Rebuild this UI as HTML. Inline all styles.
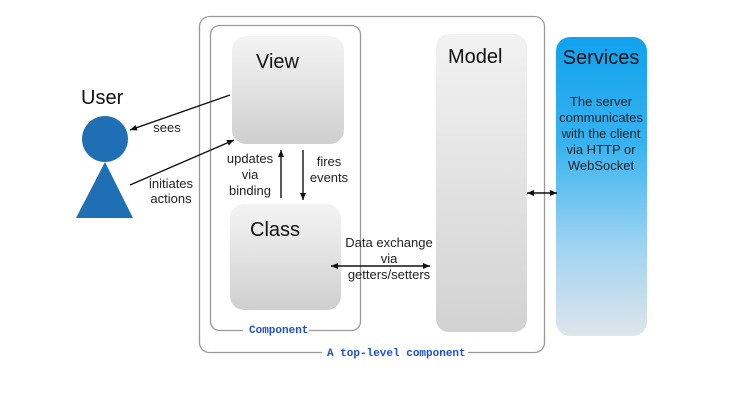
<!DOCTYPE html>
<html><head><style>
html,body{margin:0;padding:0;background:#fff;width:730px;height:420px;overflow:hidden}
text{font-family:"Liberation Sans",sans-serif}
.m{font-family:"Liberation Mono",monospace;font-weight:bold;fill:#1e4fd8;font-size:11px}
</style></head><body>
<svg width="730" height="420" viewBox="0 0 730 420" xmlns="http://www.w3.org/2000/svg">
<defs>
<linearGradient id="g" x1="0" y1="0" x2="0" y2="1">
<stop offset="0" stop-color="#f4f4f4"/><stop offset="1" stop-color="#cfcfcf"/></linearGradient>
<linearGradient id="gm" x1="0" y1="0" x2="0" y2="1">
<stop offset="0" stop-color="#f2f2f2"/><stop offset="1" stop-color="#d2d2d2"/></linearGradient>
<linearGradient id="b" x1="0" y1="0" x2="0" y2="1">
<stop offset="0" stop-color="#10a2ee"/><stop offset="0.35" stop-color="#36b2ef"/><stop offset="0.7" stop-color="#9fd3f2"/><stop offset="1" stop-color="#dfe5ea"/></linearGradient>
<marker id="a" markerWidth="8" markerHeight="8" refX="7" refY="4" orient="auto" markerUnits="userSpaceOnUse"><path d="M0,1 L7,4 L0,7z" fill="#111"/></marker>
<marker id="s" markerWidth="8" markerHeight="8" refX="0" refY="4" orient="auto" markerUnits="userSpaceOnUse"><path d="M7,1 L0,4 L7,7z" fill="#111"/></marker>
</defs>
<rect x="199.5" y="16.5" width="345" height="336" rx="10" fill="none" stroke="#999" stroke-width="1.3"/>
<rect x="210.5" y="25.5" width="150" height="305" rx="9" fill="none" stroke="#999" stroke-width="1.3"/>
<rect x="232" y="36" width="112" height="108" rx="14" fill="url(#g)"/>
<rect x="230" y="204" width="111" height="106" rx="14" fill="url(#g)"/>
<rect x="436" y="34" width="91" height="298" rx="13" fill="url(#gm)"/>
<rect x="556" y="37" width="91" height="299" rx="14" fill="url(#b)"/>
<rect x="243" y="323" width="66" height="14" fill="#fff"/>
<text x="249" y="333" class="m">Component</text>
<rect x="322" y="345" width="146" height="14" fill="#fff"/>
<text x="327" y="356" class="m">A top-level component</text>
<text x="256" y="68" font-size="20" fill="#111">View</text>
<text x="250" y="236" font-size="20" fill="#111">Class</text>
<text x="448" y="63" font-size="20" fill="#111">Model</text>
<text x="601" y="64" font-size="20" fill="#111" text-anchor="middle">Services</text>
<g font-size="13" fill="#222" text-anchor="middle">
<text x="601" y="106">The server</text><text x="601" y="122">communicates</text>
<text x="601" y="138">with the client</text><text x="601" y="154">via HTTP or</text><text x="601" y="170">WebSocket</text>
</g>
<text x="81" y="104" font-size="20" fill="#111">User</text>
<circle cx="105" cy="139" r="23" fill="#1f6fb5"/>
<path d="M105,162 L133,218 L76,218z" fill="#1f6fb5"/>
<g stroke="#111" stroke-width="1.4" fill="none">
<line x1="230" y1="95" x2="130" y2="130" marker-end="url(#a)"/>
<line x1="130" y1="185" x2="234" y2="140" marker-end="url(#a)"/>
<line x1="281" y1="198" x2="281" y2="150" marker-end="url(#a)"/>
<line x1="303" y1="150" x2="303" y2="200" marker-end="url(#a)"/>
<line x1="331" y1="266" x2="430" y2="266" marker-start="url(#s)" marker-end="url(#a)"/>
<line x1="527" y1="193" x2="557" y2="193" marker-start="url(#s)" marker-end="url(#a)"/>
</g>
<g font-size="13" fill="#222" text-anchor="middle">
<text x="167" y="132">sees</text>
<text x="171" y="188">initiates</text><text x="171" y="203">actions</text>
<text x="250" y="163">updates</text><text x="250" y="179">via</text><text x="250" y="195">binding</text>
<text x="329" y="166">fires</text><text x="329" y="182">events</text>
<text x="389" y="247">Data exchange</text><text x="389" y="263">via</text><text x="389" y="279">getters/setters</text>
</g>
</svg>
</body></html>
